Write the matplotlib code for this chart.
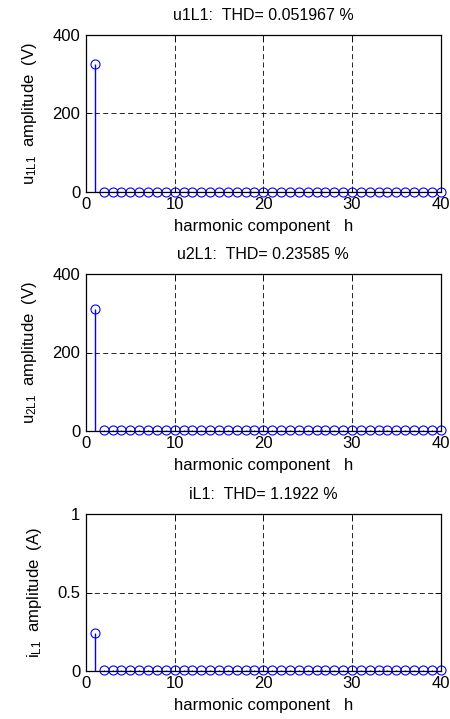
import numpy as np
import matplotlib.pyplot as plt

plt.rcParams['font.family'] = ['Liberation Sans', 'DejaVu Sans']
plt.rcParams['mathtext.default'] = 'regular'
plt.rcParams['font.size'] = 12

# harmonic orders
h = np.arange(1, 41)

# amplitudes (fundamental + tiny higher harmonics)
u1L1 = [326] + [0.2] * 39
u2L1 = [310] + [0.7] * 39
iL1 = [0.241] + [0.003] * 39

titles = ['u1L1:  THD= 0.051967 %', 'u2L1:  THD= 0.23585 %', 'iL1:  THD= 1.1922 %']
ylabels = [r'u$_{1L1}$  amplitude  (V)', r'u$_{2L1}$  amplitude  (V)', r'i$_{L1}$  amplitude  (A)']
ylims = [(0, 400), (0, 400), (0, 1)]
yticks = [[0, 200, 400], [0, 200, 400], [0, 0.5, 1]]
yticklabels = [['0', '200', '400'], ['0', '200', '400'], ['0', '0.5', '1']]

fig = plt.figure(figsize=(4.5, 7.19), dpi=100)
W, H = 450, 719
# axes boxes in pixels: left, top, right, bottom
boxes = [(86, 35, 440.7, 191.7), (86, 274.3, 440.7, 430.7), (86, 514.3, 440.7, 670.7)]

for data, ttl, yl, lim, yt, ytl, (l, t, r, b) in zip(
        [u1L1, u2L1, iL1], titles, ylabels, ylims, yticks, yticklabels, boxes):
    ax = fig.add_axes([l / W, 1 - b / H, (r - l) / W, (b - t) / H])
    ml, sl, bl = ax.stem(h, data, linefmt='-', markerfmt='o', basefmt='k-')
    sl.set_color('#0000ff')
    sl.set_zorder(3)
    ml.set_color('#0000ff')
    ml.set_markerfacecolor('none')
    ml.set_markersize(6.5)
    ml.set_markeredgewidth(0.8)
    ml.set_clip_on(False)
    sl.set_linewidth(1.0)
    bl.set_linewidth(0.8)
    ax.set_xlim(0, 40)
    ax.set_ylim(*lim)
    ax.set_xticks([0, 10, 20, 30, 40])
    ax.set_yticks(yt)
    ax.set_yticklabels(ytl)
    ax.grid(True, color='k', linestyle=(0, (6, 4)), linewidth=0.6)
    ax.tick_params(direction='in', length=4, width=0.6, top=True, right=True)
    ax.tick_params(axis='x', pad=4)
    ax.tick_params(axis='y', pad=4)
    for s in ax.spines.values():
        s.set_linewidth(0.9)
    ax.set_title(ttl, fontsize=11.5, pad=11)
    ax.set_xlabel('harmonic component   h', labelpad=5)
    ax.set_ylabel(yl, labelpad=10)

fig.savefig('out.png', dpi=100)
